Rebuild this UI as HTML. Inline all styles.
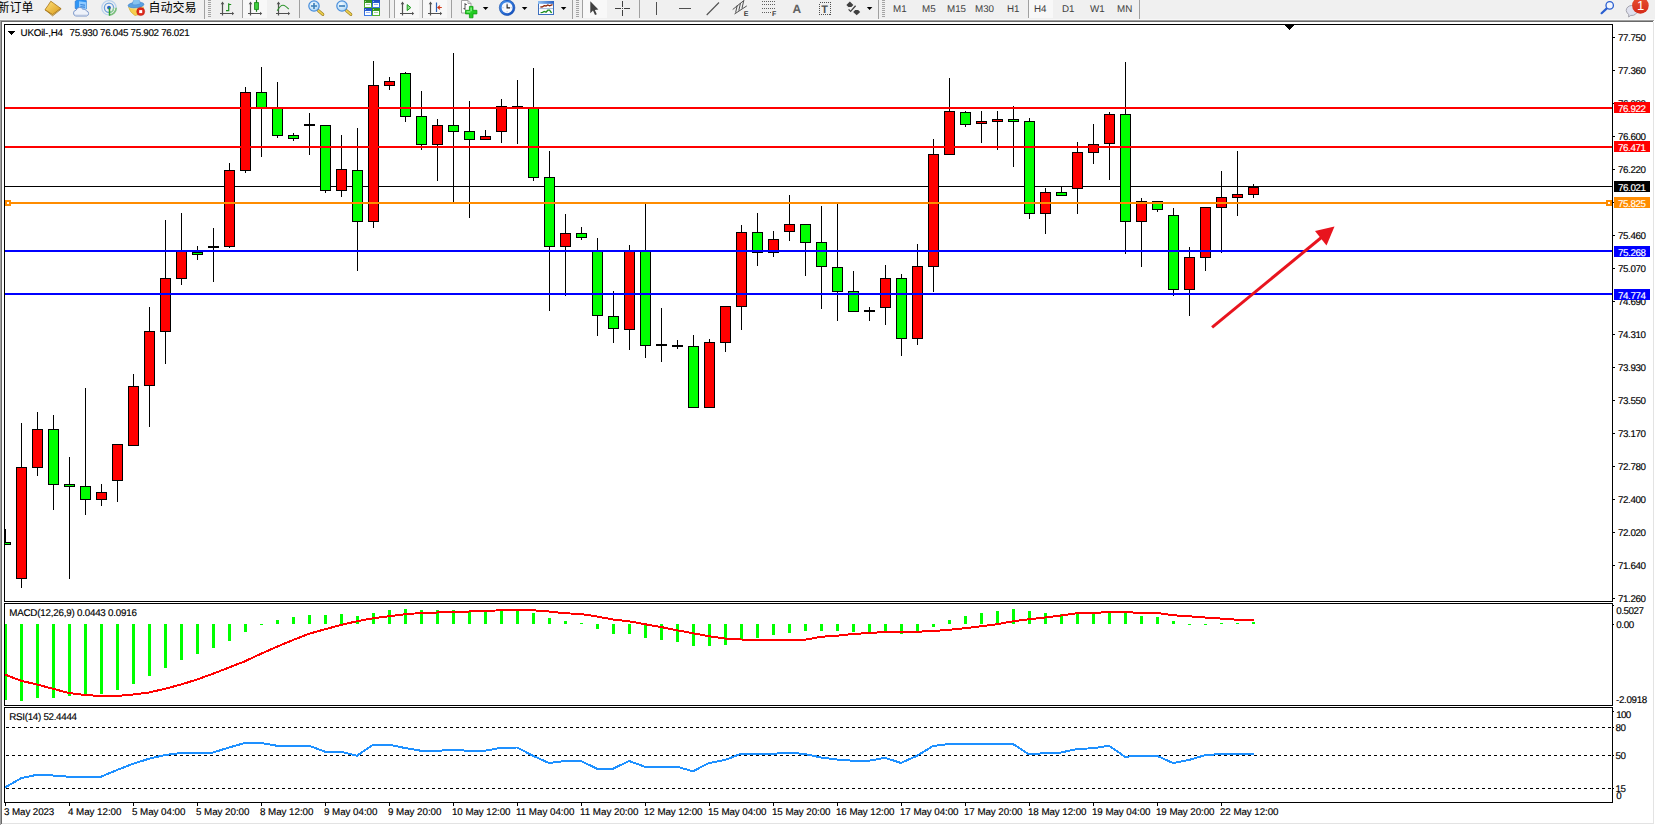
<!DOCTYPE html>
<html><head><meta charset="utf-8"><title>UKOil-,H4</title>
<style>
html,body{margin:0;padding:0;background:#fff;}
body{width:1655px;height:825px;position:relative;overflow:hidden;font-family:"Liberation Sans","Noto Sans CJK SC",sans-serif;}
.cv{position:absolute;left:0;top:0;}
.tx{position:absolute;font-size:9.8px;line-height:12px;height:12px;white-space:pre;text-rendering:geometricPrecision;-webkit-text-stroke:0.15px currentColor;}
.tag{position:absolute;}
.tag{left:1614px;width:36px;height:11px;}
#tb{position:absolute;left:0;top:0;width:1655px;height:20px;background:#f0f0f0;overflow:hidden;}
#tb .zh{position:absolute;top:0px;font-size:12px;line-height:14px;color:#000;white-space:nowrap;}
#tb .tf{position:absolute;top:4px;font-size:9.8px;line-height:12px;color:#404040;white-space:nowrap;text-rendering:geometricPrecision;}
#tb svg{position:absolute;left:0;top:0;}
.edge{position:absolute;background:#f0f0f0;}
</style></head><body>
<svg class="cv" width="1655" height="825" viewBox="0 0 1655 825" shape-rendering="crispEdges">
<rect x="4" y="24" width="1609" height="1" fill="#000"/>
<rect x="4" y="24" width="1" height="578" fill="#000"/>
<rect x="1612" y="24" width="1" height="578" fill="#000"/>
<rect x="4" y="603" width="1" height="103" fill="#000"/>
<rect x="1612" y="603" width="1" height="103" fill="#000"/>
<rect x="4" y="707" width="1" height="96" fill="#000"/>
<rect x="1612" y="707" width="1" height="96" fill="#000"/>
<rect x="4" y="601" width="1609" height="1" fill="#000"/>
<rect x="4" y="603" width="1609" height="1" fill="#000"/>
<rect x="4" y="705" width="1609" height="1" fill="#000"/>
<rect x="4" y="707" width="1609" height="1" fill="#000"/>
<rect x="4" y="802" width="1609" height="1" fill="#000"/>
<rect x="1613" y="37" width="2" height="1" fill="#000"/>
<rect x="1613" y="70" width="2" height="1" fill="#000"/>
<rect x="1613" y="103" width="2" height="1" fill="#000"/>
<rect x="1613" y="136" width="2" height="1" fill="#000"/>
<rect x="1613" y="169" width="2" height="1" fill="#000"/>
<rect x="1613" y="202" width="2" height="1" fill="#000"/>
<rect x="1613" y="235" width="2" height="1" fill="#000"/>
<rect x="1613" y="268" width="2" height="1" fill="#000"/>
<rect x="1613" y="301" width="2" height="1" fill="#000"/>
<rect x="1613" y="334" width="2" height="1" fill="#000"/>
<rect x="1613" y="367" width="2" height="1" fill="#000"/>
<rect x="1613" y="400" width="2" height="1" fill="#000"/>
<rect x="1613" y="433" width="2" height="1" fill="#000"/>
<rect x="1613" y="466" width="2" height="1" fill="#000"/>
<rect x="1613" y="499" width="2" height="1" fill="#000"/>
<rect x="1613" y="532" width="2" height="1" fill="#000"/>
<rect x="1613" y="565" width="2" height="1" fill="#000"/>
<rect x="1613" y="598" width="2" height="1" fill="#000"/>
<rect x="5" y="803" width="1" height="3" fill="#000"/>
<rect x="69" y="803" width="1" height="3" fill="#000"/>
<rect x="133" y="803" width="1" height="3" fill="#000"/>
<rect x="197" y="803" width="1" height="3" fill="#000"/>
<rect x="261" y="803" width="1" height="3" fill="#000"/>
<rect x="325" y="803" width="1" height="3" fill="#000"/>
<rect x="389" y="803" width="1" height="3" fill="#000"/>
<rect x="453" y="803" width="1" height="3" fill="#000"/>
<rect x="517" y="803" width="1" height="3" fill="#000"/>
<rect x="581" y="803" width="1" height="3" fill="#000"/>
<rect x="645" y="803" width="1" height="3" fill="#000"/>
<rect x="709" y="803" width="1" height="3" fill="#000"/>
<rect x="773" y="803" width="1" height="3" fill="#000"/>
<rect x="837" y="803" width="1" height="3" fill="#000"/>
<rect x="901" y="803" width="1" height="3" fill="#000"/>
<rect x="965" y="803" width="1" height="3" fill="#000"/>
<rect x="1029" y="803" width="1" height="3" fill="#000"/>
<rect x="1093" y="803" width="1" height="3" fill="#000"/>
<rect x="1157" y="803" width="1" height="3" fill="#000"/>
<rect x="1221" y="803" width="1" height="3" fill="#000"/>
<rect x="5" y="107" width="1607" height="2" fill="#ff0000"/>
<rect x="5" y="146" width="1607" height="2" fill="#ff0000"/>
<rect x="5" y="186" width="1607" height="1" fill="#000"/>
<rect x="5" y="202" width="1607" height="2" fill="#ff8c00"/>
<rect x="5" y="250" width="1607" height="2" fill="#0000ff"/>
<rect x="5" y="293" width="1607" height="2" fill="#0000ff"/>
<rect x="5" y="529" width="1" height="14" fill="#000"/>
<rect x="5" y="542" width="6" height="3" fill="#000"/>
<rect x="5" y="543" width="5" height="1" fill="#00ff00"/>
<rect x="21" y="423" width="1" height="165" fill="#000"/>
<rect x="16" y="467" width="11" height="112" fill="#000"/>
<rect x="17" y="468" width="9" height="110" fill="#ff0000"/>
<rect x="37" y="412" width="1" height="64" fill="#000"/>
<rect x="32" y="429" width="11" height="39" fill="#000"/>
<rect x="33" y="430" width="9" height="37" fill="#ff0000"/>
<rect x="53" y="415" width="1" height="95" fill="#000"/>
<rect x="48" y="429" width="11" height="56" fill="#000"/>
<rect x="49" y="430" width="9" height="54" fill="#00ff00"/>
<rect x="69" y="457" width="1" height="122" fill="#000"/>
<rect x="64" y="484" width="11" height="3" fill="#000"/>
<rect x="65" y="485" width="9" height="1" fill="#00ff00"/>
<rect x="85" y="388" width="1" height="127" fill="#000"/>
<rect x="80" y="486" width="11" height="14" fill="#000"/>
<rect x="81" y="487" width="9" height="12" fill="#00ff00"/>
<rect x="101" y="484" width="1" height="22" fill="#000"/>
<rect x="96" y="492" width="11" height="8" fill="#000"/>
<rect x="97" y="493" width="9" height="6" fill="#ff0000"/>
<rect x="117" y="444" width="1" height="58" fill="#000"/>
<rect x="112" y="444" width="11" height="37" fill="#000"/>
<rect x="113" y="445" width="9" height="35" fill="#ff0000"/>
<rect x="133" y="374" width="1" height="72" fill="#000"/>
<rect x="128" y="386" width="11" height="60" fill="#000"/>
<rect x="129" y="387" width="9" height="58" fill="#ff0000"/>
<rect x="149" y="307" width="1" height="120" fill="#000"/>
<rect x="144" y="331" width="11" height="55" fill="#000"/>
<rect x="145" y="332" width="9" height="53" fill="#ff0000"/>
<rect x="165" y="220" width="1" height="144" fill="#000"/>
<rect x="160" y="278" width="11" height="54" fill="#000"/>
<rect x="161" y="279" width="9" height="52" fill="#ff0000"/>
<rect x="181" y="213" width="1" height="72" fill="#000"/>
<rect x="176" y="251" width="11" height="28" fill="#000"/>
<rect x="177" y="252" width="9" height="26" fill="#ff0000"/>
<rect x="197" y="246" width="1" height="14" fill="#000"/>
<rect x="192" y="252" width="11" height="3" fill="#000"/>
<rect x="193" y="253" width="9" height="1" fill="#00ff00"/>
<rect x="213" y="228" width="1" height="54" fill="#000"/>
<rect x="208" y="246" width="11" height="2" fill="#000"/>
<rect x="229" y="163" width="1" height="85" fill="#000"/>
<rect x="224" y="170" width="11" height="77" fill="#000"/>
<rect x="225" y="171" width="9" height="75" fill="#ff0000"/>
<rect x="245" y="87" width="1" height="86" fill="#000"/>
<rect x="240" y="92" width="11" height="79" fill="#000"/>
<rect x="241" y="93" width="9" height="77" fill="#ff0000"/>
<rect x="261" y="67" width="1" height="90" fill="#000"/>
<rect x="256" y="92" width="11" height="16" fill="#000"/>
<rect x="257" y="93" width="9" height="14" fill="#00ff00"/>
<rect x="277" y="82" width="1" height="56" fill="#000"/>
<rect x="272" y="107" width="11" height="29" fill="#000"/>
<rect x="273" y="108" width="9" height="27" fill="#00ff00"/>
<rect x="293" y="133" width="1" height="8" fill="#000"/>
<rect x="288" y="135" width="11" height="4" fill="#000"/>
<rect x="289" y="136" width="9" height="2" fill="#00ff00"/>
<rect x="309" y="113" width="1" height="42" fill="#000"/>
<rect x="304" y="124" width="11" height="2" fill="#000"/>
<rect x="325" y="125" width="1" height="68" fill="#000"/>
<rect x="320" y="125" width="11" height="66" fill="#000"/>
<rect x="321" y="126" width="9" height="64" fill="#00ff00"/>
<rect x="341" y="135" width="1" height="62" fill="#000"/>
<rect x="336" y="169" width="11" height="22" fill="#000"/>
<rect x="337" y="170" width="9" height="20" fill="#ff0000"/>
<rect x="357" y="128" width="1" height="143" fill="#000"/>
<rect x="352" y="170" width="11" height="52" fill="#000"/>
<rect x="353" y="171" width="9" height="50" fill="#00ff00"/>
<rect x="373" y="61" width="1" height="167" fill="#000"/>
<rect x="368" y="85" width="11" height="137" fill="#000"/>
<rect x="369" y="86" width="9" height="135" fill="#ff0000"/>
<rect x="389" y="77" width="1" height="13" fill="#000"/>
<rect x="384" y="81" width="11" height="5" fill="#000"/>
<rect x="385" y="82" width="9" height="3" fill="#ff0000"/>
<rect x="405" y="72" width="1" height="50" fill="#000"/>
<rect x="400" y="73" width="11" height="44" fill="#000"/>
<rect x="401" y="74" width="9" height="42" fill="#00ff00"/>
<rect x="421" y="91" width="1" height="59" fill="#000"/>
<rect x="416" y="116" width="11" height="29" fill="#000"/>
<rect x="417" y="117" width="9" height="27" fill="#00ff00"/>
<rect x="437" y="119" width="1" height="62" fill="#000"/>
<rect x="432" y="125" width="11" height="20" fill="#000"/>
<rect x="433" y="126" width="9" height="18" fill="#ff0000"/>
<rect x="453" y="53" width="1" height="149" fill="#000"/>
<rect x="448" y="125" width="11" height="7" fill="#000"/>
<rect x="449" y="126" width="9" height="5" fill="#00ff00"/>
<rect x="469" y="101" width="1" height="117" fill="#000"/>
<rect x="464" y="131" width="11" height="9" fill="#000"/>
<rect x="465" y="132" width="9" height="7" fill="#00ff00"/>
<rect x="485" y="130" width="1" height="10" fill="#000"/>
<rect x="480" y="136" width="11" height="4" fill="#000"/>
<rect x="481" y="137" width="9" height="2" fill="#ff0000"/>
<rect x="501" y="99" width="1" height="44" fill="#000"/>
<rect x="496" y="106" width="11" height="26" fill="#000"/>
<rect x="497" y="107" width="9" height="24" fill="#ff0000"/>
<rect x="517" y="80" width="1" height="64" fill="#000"/>
<rect x="512" y="106" width="11" height="2" fill="#000"/>
<rect x="533" y="68" width="1" height="113" fill="#000"/>
<rect x="528" y="107" width="11" height="71" fill="#000"/>
<rect x="529" y="108" width="9" height="69" fill="#00ff00"/>
<rect x="549" y="151" width="1" height="160" fill="#000"/>
<rect x="544" y="177" width="11" height="70" fill="#000"/>
<rect x="545" y="178" width="9" height="68" fill="#00ff00"/>
<rect x="565" y="214" width="1" height="82" fill="#000"/>
<rect x="560" y="233" width="11" height="14" fill="#000"/>
<rect x="561" y="234" width="9" height="12" fill="#ff0000"/>
<rect x="581" y="227" width="1" height="13" fill="#000"/>
<rect x="576" y="233" width="11" height="5" fill="#000"/>
<rect x="577" y="234" width="9" height="3" fill="#00ff00"/>
<rect x="597" y="238" width="1" height="98" fill="#000"/>
<rect x="592" y="250" width="11" height="66" fill="#000"/>
<rect x="593" y="251" width="9" height="64" fill="#00ff00"/>
<rect x="613" y="291" width="1" height="52" fill="#000"/>
<rect x="608" y="316" width="11" height="13" fill="#000"/>
<rect x="609" y="317" width="9" height="11" fill="#00ff00"/>
<rect x="629" y="245" width="1" height="105" fill="#000"/>
<rect x="624" y="250" width="11" height="80" fill="#000"/>
<rect x="625" y="251" width="9" height="78" fill="#ff0000"/>
<rect x="645" y="204" width="1" height="154" fill="#000"/>
<rect x="640" y="250" width="11" height="96" fill="#000"/>
<rect x="641" y="251" width="9" height="94" fill="#00ff00"/>
<rect x="661" y="308" width="1" height="54" fill="#000"/>
<rect x="656" y="344" width="11" height="2" fill="#000"/>
<rect x="677" y="340" width="1" height="9" fill="#000"/>
<rect x="672" y="345" width="11" height="2" fill="#000"/>
<rect x="693" y="335" width="1" height="73" fill="#000"/>
<rect x="688" y="346" width="11" height="62" fill="#000"/>
<rect x="689" y="347" width="9" height="60" fill="#00ff00"/>
<rect x="709" y="339" width="1" height="69" fill="#000"/>
<rect x="704" y="342" width="11" height="66" fill="#000"/>
<rect x="705" y="343" width="9" height="64" fill="#ff0000"/>
<rect x="725" y="306" width="1" height="46" fill="#000"/>
<rect x="720" y="306" width="11" height="37" fill="#000"/>
<rect x="721" y="307" width="9" height="35" fill="#ff0000"/>
<rect x="741" y="225" width="1" height="105" fill="#000"/>
<rect x="736" y="232" width="11" height="75" fill="#000"/>
<rect x="737" y="233" width="9" height="73" fill="#ff0000"/>
<rect x="757" y="213" width="1" height="53" fill="#000"/>
<rect x="752" y="232" width="11" height="21" fill="#000"/>
<rect x="753" y="233" width="9" height="19" fill="#00ff00"/>
<rect x="773" y="231" width="1" height="26" fill="#000"/>
<rect x="768" y="239" width="11" height="14" fill="#000"/>
<rect x="769" y="240" width="9" height="12" fill="#ff0000"/>
<rect x="789" y="195" width="1" height="46" fill="#000"/>
<rect x="784" y="224" width="11" height="8" fill="#000"/>
<rect x="785" y="225" width="9" height="6" fill="#ff0000"/>
<rect x="805" y="224" width="1" height="52" fill="#000"/>
<rect x="800" y="224" width="11" height="19" fill="#000"/>
<rect x="801" y="225" width="9" height="17" fill="#00ff00"/>
<rect x="821" y="206" width="1" height="103" fill="#000"/>
<rect x="816" y="242" width="11" height="25" fill="#000"/>
<rect x="817" y="243" width="9" height="23" fill="#00ff00"/>
<rect x="837" y="204" width="1" height="117" fill="#000"/>
<rect x="832" y="267" width="11" height="25" fill="#000"/>
<rect x="833" y="268" width="9" height="23" fill="#00ff00"/>
<rect x="853" y="271" width="1" height="41" fill="#000"/>
<rect x="848" y="291" width="11" height="21" fill="#000"/>
<rect x="849" y="292" width="9" height="19" fill="#00ff00"/>
<rect x="869" y="307" width="1" height="14" fill="#000"/>
<rect x="864" y="310" width="11" height="2" fill="#000"/>
<rect x="885" y="265" width="1" height="60" fill="#000"/>
<rect x="880" y="278" width="11" height="30" fill="#000"/>
<rect x="881" y="279" width="9" height="28" fill="#ff0000"/>
<rect x="901" y="274" width="1" height="82" fill="#000"/>
<rect x="896" y="278" width="11" height="61" fill="#000"/>
<rect x="897" y="279" width="9" height="59" fill="#00ff00"/>
<rect x="917" y="244" width="1" height="101" fill="#000"/>
<rect x="912" y="266" width="11" height="73" fill="#000"/>
<rect x="913" y="267" width="9" height="71" fill="#ff0000"/>
<rect x="933" y="139" width="1" height="153" fill="#000"/>
<rect x="928" y="154" width="11" height="113" fill="#000"/>
<rect x="929" y="155" width="9" height="111" fill="#ff0000"/>
<rect x="949" y="78" width="1" height="77" fill="#000"/>
<rect x="944" y="111" width="11" height="44" fill="#000"/>
<rect x="945" y="112" width="9" height="42" fill="#ff0000"/>
<rect x="965" y="111" width="1" height="16" fill="#000"/>
<rect x="960" y="112" width="11" height="13" fill="#000"/>
<rect x="961" y="113" width="9" height="11" fill="#00ff00"/>
<rect x="981" y="111" width="1" height="32" fill="#000"/>
<rect x="976" y="121" width="11" height="3" fill="#000"/>
<rect x="977" y="122" width="9" height="1" fill="#ff0000"/>
<rect x="997" y="111" width="1" height="39" fill="#000"/>
<rect x="992" y="119" width="11" height="3" fill="#000"/>
<rect x="993" y="120" width="9" height="1" fill="#ff0000"/>
<rect x="1013" y="106" width="1" height="61" fill="#000"/>
<rect x="1008" y="119" width="11" height="3" fill="#000"/>
<rect x="1009" y="120" width="9" height="1" fill="#00ff00"/>
<rect x="1029" y="118" width="1" height="101" fill="#000"/>
<rect x="1024" y="121" width="11" height="93" fill="#000"/>
<rect x="1025" y="122" width="9" height="91" fill="#00ff00"/>
<rect x="1045" y="188" width="1" height="46" fill="#000"/>
<rect x="1040" y="192" width="11" height="22" fill="#000"/>
<rect x="1041" y="193" width="9" height="20" fill="#ff0000"/>
<rect x="1061" y="187" width="1" height="9" fill="#000"/>
<rect x="1056" y="192" width="11" height="4" fill="#000"/>
<rect x="1057" y="193" width="9" height="2" fill="#00ff00"/>
<rect x="1077" y="142" width="1" height="72" fill="#000"/>
<rect x="1072" y="152" width="11" height="37" fill="#000"/>
<rect x="1073" y="153" width="9" height="35" fill="#ff0000"/>
<rect x="1093" y="124" width="1" height="40" fill="#000"/>
<rect x="1088" y="144" width="11" height="9" fill="#000"/>
<rect x="1089" y="145" width="9" height="7" fill="#ff0000"/>
<rect x="1109" y="112" width="1" height="68" fill="#000"/>
<rect x="1104" y="114" width="11" height="30" fill="#000"/>
<rect x="1105" y="115" width="9" height="28" fill="#ff0000"/>
<rect x="1125" y="62" width="1" height="192" fill="#000"/>
<rect x="1120" y="114" width="11" height="108" fill="#000"/>
<rect x="1121" y="115" width="9" height="106" fill="#00ff00"/>
<rect x="1141" y="198" width="1" height="69" fill="#000"/>
<rect x="1136" y="201" width="11" height="21" fill="#000"/>
<rect x="1137" y="202" width="9" height="19" fill="#ff0000"/>
<rect x="1157" y="201" width="1" height="11" fill="#000"/>
<rect x="1152" y="201" width="11" height="9" fill="#000"/>
<rect x="1153" y="202" width="9" height="7" fill="#00ff00"/>
<rect x="1173" y="208" width="1" height="88" fill="#000"/>
<rect x="1168" y="215" width="11" height="75" fill="#000"/>
<rect x="1169" y="216" width="9" height="73" fill="#00ff00"/>
<rect x="1189" y="247" width="1" height="69" fill="#000"/>
<rect x="1184" y="257" width="11" height="33" fill="#000"/>
<rect x="1185" y="258" width="9" height="31" fill="#ff0000"/>
<rect x="1205" y="207" width="1" height="64" fill="#000"/>
<rect x="1200" y="207" width="11" height="51" fill="#000"/>
<rect x="1201" y="208" width="9" height="49" fill="#ff0000"/>
<rect x="1221" y="171" width="1" height="82" fill="#000"/>
<rect x="1216" y="197" width="11" height="11" fill="#000"/>
<rect x="1217" y="198" width="9" height="9" fill="#ff0000"/>
<rect x="1237" y="151" width="1" height="65" fill="#000"/>
<rect x="1232" y="194" width="11" height="4" fill="#000"/>
<rect x="1233" y="195" width="9" height="2" fill="#ff0000"/>
<rect x="1253" y="184" width="1" height="14" fill="#000"/>
<rect x="1248" y="187" width="11" height="8" fill="#000"/>
<rect x="1249" y="188" width="9" height="6" fill="#ff0000"/>
<rect x="5" y="107" width="1607" height="2" fill="#ff0000"/>
<rect x="5" y="146" width="1607" height="2" fill="#ff0000"/>
<rect x="5" y="202" width="1607" height="2" fill="#ff8c00"/>
<rect x="5" y="250" width="1607" height="2" fill="#0000ff"/>
<rect x="5" y="293" width="1607" height="2" fill="#0000ff"/>
<rect x="5" y="200" width="6" height="6" fill="#ff8c00"/>
<rect x="7" y="202" width="2" height="2" fill="#fff"/>
<rect x="1606" y="200" width="6" height="6" fill="#ff8c00"/>
<rect x="1608" y="202" width="2" height="2" fill="#fff"/>
<rect x="1613" y="605" width="1" height="1" fill="#000"/>
<rect x="1613" y="624" width="1" height="1" fill="#000"/>
<rect x="1613" y="711" width="1" height="1" fill="#000"/>
<rect x="1613" y="727" width="1" height="1" fill="#000"/>
<rect x="1613" y="755" width="1" height="1" fill="#000"/>
<rect x="1613" y="788" width="1" height="1" fill="#000"/>
<rect x="8" y="31" width="7" height="1" fill="#000"/>
<rect x="9" y="32" width="5" height="1" fill="#000"/>
<rect x="10" y="33" width="3" height="1" fill="#000"/>
<rect x="11" y="34" width="1" height="1" fill="#000"/>
<rect x="1285" y="25" width="9" height="1" fill="#000"/>
<rect x="1286" y="26" width="7" height="1" fill="#000"/>
<rect x="1287" y="27" width="5" height="1" fill="#000"/>
<rect x="1288" y="28" width="3" height="1" fill="#000"/>
<rect x="1289" y="29" width="1" height="1" fill="#000"/>
<rect x="5" y="624" width="2" height="76" fill="#00ff00"/>
<rect x="20" y="624" width="3" height="77" fill="#00ff00"/>
<rect x="36" y="624" width="3" height="74" fill="#00ff00"/>
<rect x="52" y="624" width="3" height="74" fill="#00ff00"/>
<rect x="68" y="624" width="3" height="72" fill="#00ff00"/>
<rect x="84" y="624" width="3" height="70" fill="#00ff00"/>
<rect x="100" y="624" width="3" height="70" fill="#00ff00"/>
<rect x="116" y="624" width="3" height="66" fill="#00ff00"/>
<rect x="132" y="624" width="3" height="60" fill="#00ff00"/>
<rect x="148" y="624" width="3" height="52" fill="#00ff00"/>
<rect x="164" y="624" width="3" height="44" fill="#00ff00"/>
<rect x="180" y="624" width="3" height="36" fill="#00ff00"/>
<rect x="196" y="624" width="3" height="30" fill="#00ff00"/>
<rect x="212" y="624" width="3" height="24" fill="#00ff00"/>
<rect x="228" y="624" width="3" height="17" fill="#00ff00"/>
<rect x="244" y="624" width="3" height="8" fill="#00ff00"/>
<rect x="260" y="624" width="3" height="1" fill="#00ff00"/>
<rect x="276" y="620" width="3" height="4" fill="#00ff00"/>
<rect x="292" y="617" width="3" height="7" fill="#00ff00"/>
<rect x="308" y="615" width="3" height="9" fill="#00ff00"/>
<rect x="324" y="615" width="3" height="9" fill="#00ff00"/>
<rect x="340" y="614" width="3" height="10" fill="#00ff00"/>
<rect x="356" y="616" width="3" height="8" fill="#00ff00"/>
<rect x="372" y="613" width="3" height="11" fill="#00ff00"/>
<rect x="388" y="610" width="3" height="14" fill="#00ff00"/>
<rect x="404" y="609" width="3" height="15" fill="#00ff00"/>
<rect x="420" y="610" width="3" height="14" fill="#00ff00"/>
<rect x="436" y="610" width="3" height="14" fill="#00ff00"/>
<rect x="452" y="610" width="3" height="14" fill="#00ff00"/>
<rect x="468" y="611" width="3" height="13" fill="#00ff00"/>
<rect x="484" y="611" width="3" height="13" fill="#00ff00"/>
<rect x="500" y="610" width="3" height="14" fill="#00ff00"/>
<rect x="516" y="610" width="3" height="14" fill="#00ff00"/>
<rect x="532" y="613" width="3" height="11" fill="#00ff00"/>
<rect x="548" y="618" width="3" height="6" fill="#00ff00"/>
<rect x="564" y="621" width="3" height="3" fill="#00ff00"/>
<rect x="580" y="623" width="3" height="1" fill="#00ff00"/>
<rect x="596" y="624" width="3" height="5" fill="#00ff00"/>
<rect x="612" y="624" width="3" height="10" fill="#00ff00"/>
<rect x="628" y="624" width="3" height="10" fill="#00ff00"/>
<rect x="644" y="624" width="3" height="14" fill="#00ff00"/>
<rect x="660" y="624" width="3" height="16" fill="#00ff00"/>
<rect x="676" y="624" width="3" height="18" fill="#00ff00"/>
<rect x="692" y="624" width="3" height="22" fill="#00ff00"/>
<rect x="708" y="624" width="3" height="22" fill="#00ff00"/>
<rect x="724" y="624" width="3" height="21" fill="#00ff00"/>
<rect x="740" y="624" width="3" height="16" fill="#00ff00"/>
<rect x="756" y="624" width="3" height="14" fill="#00ff00"/>
<rect x="772" y="624" width="3" height="11" fill="#00ff00"/>
<rect x="788" y="624" width="3" height="9" fill="#00ff00"/>
<rect x="804" y="624" width="3" height="7" fill="#00ff00"/>
<rect x="820" y="624" width="3" height="7" fill="#00ff00"/>
<rect x="836" y="624" width="3" height="7" fill="#00ff00"/>
<rect x="852" y="624" width="3" height="8" fill="#00ff00"/>
<rect x="868" y="624" width="3" height="9" fill="#00ff00"/>
<rect x="884" y="624" width="3" height="9" fill="#00ff00"/>
<rect x="900" y="624" width="3" height="10" fill="#00ff00"/>
<rect x="916" y="624" width="3" height="8" fill="#00ff00"/>
<rect x="932" y="624" width="3" height="3" fill="#00ff00"/>
<rect x="948" y="620" width="3" height="4" fill="#00ff00"/>
<rect x="964" y="616" width="3" height="8" fill="#00ff00"/>
<rect x="980" y="613" width="3" height="11" fill="#00ff00"/>
<rect x="996" y="611" width="3" height="13" fill="#00ff00"/>
<rect x="1012" y="609" width="3" height="15" fill="#00ff00"/>
<rect x="1028" y="611" width="3" height="13" fill="#00ff00"/>
<rect x="1044" y="613" width="3" height="11" fill="#00ff00"/>
<rect x="1060" y="614" width="3" height="10" fill="#00ff00"/>
<rect x="1076" y="613" width="3" height="11" fill="#00ff00"/>
<rect x="1092" y="613" width="3" height="11" fill="#00ff00"/>
<rect x="1108" y="611" width="3" height="13" fill="#00ff00"/>
<rect x="1124" y="613" width="3" height="11" fill="#00ff00"/>
<rect x="1140" y="616" width="3" height="8" fill="#00ff00"/>
<rect x="1156" y="617" width="3" height="7" fill="#00ff00"/>
<rect x="1172" y="621" width="3" height="3" fill="#00ff00"/>
<rect x="1188" y="624" width="3" height="1" fill="#00ff00"/>
<rect x="1204" y="624" width="3" height="1" fill="#00ff00"/>
<rect x="1220" y="623" width="3" height="1" fill="#00ff00"/>
<rect x="1236" y="623" width="3" height="1" fill="#00ff00"/>
<rect x="1252" y="622" width="3" height="2" fill="#00ff00"/>
<line x1="6" y1="727.5" x2="1612" y2="727.5" stroke="#000" stroke-width="1" stroke-dasharray="3 3"/>
<line x1="6" y1="755.5" x2="1612" y2="755.5" stroke="#000" stroke-width="1" stroke-dasharray="3 3"/>
<line x1="6" y1="788.5" x2="1612" y2="788.5" stroke="#000" stroke-width="1" stroke-dasharray="3 3"/>
</svg>
<svg class="cv" width="1655" height="825" viewBox="0 0 1655 825">
<polyline points="5,674.5 21,680.75 37,684.5 53,688.75 69,693 85,695 101,696 117,696 133,694.5 149,692.5 165,688.75 181,684.5 197,679.5 213,673.75 229,667.5 245,661.25 261,653.75 277,646.75 293,640 309,633.75 325,629.25 341,625 357,621.25 373,618.25 389,616.25 405,614.25 421,613 437,612.5 453,612.2 469,611.5 485,611 501,610.25 517,610.25 533,610.25 549,611.5 565,613.25 581,614 597,616.5 613,619.5 629,621.25 645,624.25 661,627 677,630.25 693,633.25 709,636.25 725,638.5 741,639.5 757,639.75 773,639.75 789,639.75 805,639.75 821,636.75 837,635.75 853,634 869,633 885,632 901,631.9 917,631.75 933,631 949,629.8 965,628.25 981,626.3 997,624.25 1013,621.25 1029,619.25 1045,617.5 1061,615.5 1077,613.25 1093,613 1109,612 1125,612 1141,613 1157,613 1173,615.25 1189,616.25 1205,617.5 1221,618.6 1237,619.7 1253,620.3 1254,620.3" fill="none" stroke="#ff0000" stroke-width="2" stroke-linejoin="round" shape-rendering="crispEdges"/>
<polyline points="5,787.5 21,778.25 37,774.75 53,775.5 69,776.75 85,776.75 101,776.75 117,770 133,763.75 149,758.75 165,755 181,753 197,752.5 213,752.5 229,747.5 245,743 261,743 277,745.75 293,745.75 309,745.75 325,751.75 341,751.75 357,755.75 373,744.75 389,744.75 405,748 421,750.75 437,750.75 453,750 469,750.75 485,750.75 501,747.75 517,747.5 533,755.75 549,763 565,761 581,761 597,768.75 613,768.75 629,761 645,766.75 661,766.75 677,766.75 693,771.25 709,763 725,760 741,753.75 757,754.5 773,753.75 789,752.75 805,754 821,757.5 837,759.5 853,760.75 869,760.75 885,757.75 901,763 917,755.75 933,746 949,744 965,744 981,744 997,744 1013,744 1029,754.5 1045,753 1061,752.5 1077,749 1093,748.25 1109,745.75 1125,756.75 1141,755.75 1157,755.75 1173,763 1189,760 1205,755.2 1221,754 1237,754 1253,754 1254,754" fill="none" stroke="#1e90ff" stroke-width="2" stroke-linejoin="round" shape-rendering="crispEdges"/>
<line x1="1212.1" y1="327.4" x2="1322" y2="237" stroke="#e8141e" stroke-width="3"/>
<polygon points="1334.5,226.5 1315,231 1326.5,245.5" fill="#e8141e"/>
</svg>
<div class="tx" style="left:1617.90px;top:33.00px;letter-spacing:-0.361px;color:#000">77.750</div>
<div class="tx" style="left:1617.90px;top:66.00px;letter-spacing:-0.361px;color:#000">77.360</div>
<div class="tx" style="left:1617.90px;top:99.00px;letter-spacing:-0.361px;color:#000">76.980</div>
<div class="tx" style="left:1617.90px;top:132.00px;letter-spacing:-0.361px;color:#000">76.600</div>
<div class="tx" style="left:1617.90px;top:165.00px;letter-spacing:-0.361px;color:#000">76.220</div>
<div class="tx" style="left:1617.90px;top:198.00px;letter-spacing:-0.361px;color:#000">75.840</div>
<div class="tx" style="left:1617.90px;top:231.00px;letter-spacing:-0.361px;color:#000">75.460</div>
<div class="tx" style="left:1617.90px;top:264.00px;letter-spacing:-0.361px;color:#000">75.070</div>
<div class="tx" style="left:1617.90px;top:297.00px;letter-spacing:-0.361px;color:#000">74.690</div>
<div class="tx" style="left:1617.90px;top:330.00px;letter-spacing:-0.361px;color:#000">74.310</div>
<div class="tx" style="left:1617.90px;top:363.00px;letter-spacing:-0.361px;color:#000">73.930</div>
<div class="tx" style="left:1617.90px;top:396.00px;letter-spacing:-0.361px;color:#000">73.550</div>
<div class="tx" style="left:1617.90px;top:429.00px;letter-spacing:-0.361px;color:#000">73.170</div>
<div class="tx" style="left:1617.90px;top:462.00px;letter-spacing:-0.361px;color:#000">72.780</div>
<div class="tx" style="left:1617.90px;top:495.00px;letter-spacing:-0.361px;color:#000">72.400</div>
<div class="tx" style="left:1617.90px;top:528.00px;letter-spacing:-0.361px;color:#000">72.020</div>
<div class="tx" style="left:1617.90px;top:561.00px;letter-spacing:-0.361px;color:#000">71.640</div>
<div class="tx" style="left:1617.90px;top:594.00px;letter-spacing:-0.361px;color:#000">71.260</div>
<div class="tx" style="left:4.00px;top:807.00px;letter-spacing:-0.100px;color:#000">3 May 2023</div>
<div class="tx" style="left:68.00px;top:807.00px;letter-spacing:-0.047px;color:#000">4 May 12:00</div>
<div class="tx" style="left:132.00px;top:807.00px;letter-spacing:-0.047px;color:#000">5 May 04:00</div>
<div class="tx" style="left:196.00px;top:807.00px;letter-spacing:-0.047px;color:#000">5 May 20:00</div>
<div class="tx" style="left:260.00px;top:807.00px;letter-spacing:-0.047px;color:#000">8 May 12:00</div>
<div class="tx" style="left:324.00px;top:807.00px;letter-spacing:-0.047px;color:#000">9 May 04:00</div>
<div class="tx" style="left:388.00px;top:807.00px;letter-spacing:-0.047px;color:#000">9 May 20:00</div>
<div class="tx" style="left:452.00px;top:807.00px;letter-spacing:-0.081px;color:#000">10 May 12:00</div>
<div class="tx" style="left:516.00px;top:807.00px;letter-spacing:-0.020px;color:#000">11 May 04:00</div>
<div class="tx" style="left:580.00px;top:807.00px;letter-spacing:-0.020px;color:#000">11 May 20:00</div>
<div class="tx" style="left:644.00px;top:807.00px;letter-spacing:-0.081px;color:#000">12 May 12:00</div>
<div class="tx" style="left:708.00px;top:807.00px;letter-spacing:-0.081px;color:#000">15 May 04:00</div>
<div class="tx" style="left:772.00px;top:807.00px;letter-spacing:-0.081px;color:#000">15 May 20:00</div>
<div class="tx" style="left:836.00px;top:807.00px;letter-spacing:-0.081px;color:#000">16 May 12:00</div>
<div class="tx" style="left:900.00px;top:807.00px;letter-spacing:-0.081px;color:#000">17 May 04:00</div>
<div class="tx" style="left:964.00px;top:807.00px;letter-spacing:-0.081px;color:#000">17 May 20:00</div>
<div class="tx" style="left:1028.00px;top:807.00px;letter-spacing:-0.081px;color:#000">18 May 12:00</div>
<div class="tx" style="left:1092.00px;top:807.00px;letter-spacing:-0.081px;color:#000">19 May 04:00</div>
<div class="tx" style="left:1156.00px;top:807.00px;letter-spacing:-0.081px;color:#000">19 May 20:00</div>
<div class="tx" style="left:1220.00px;top:807.00px;letter-spacing:-0.081px;color:#000">22 May 12:00</div>
<div class="tx" style="left:1616.30px;top:606.00px;letter-spacing:-0.461px;color:#000">0.5027</div>
<div class="tx" style="left:1616.30px;top:620.00px;letter-spacing:-0.420px;color:#000">0.00</div>
<div class="tx" style="left:1616.00px;top:695.00px;letter-spacing:-0.319px;color:#000">-2.0918</div>
<div class="tx" style="left:1616.20px;top:710.00px;letter-spacing:-0.653px;color:#000">100</div>
<div class="tx" style="left:1615.60px;top:723.00px;letter-spacing:-0.653px;color:#000">80</div>
<div class="tx" style="left:1615.60px;top:751.00px;letter-spacing:-0.653px;color:#000">50</div>
<div class="tx" style="left:1615.60px;top:784.00px;letter-spacing:-0.653px;color:#000">15</div>
<div class="tx" style="left:1616.20px;top:791.00px;letter-spacing:-0.853px;color:#000">0</div>
<div class="tx" style="left:20.50px;top:28.00px;letter-spacing:-0.199px;color:#000">UKOil-,H4</div>
<div class="tx" style="left:69.50px;top:28.00px;letter-spacing:-0.305px;color:#000">75.930 76.045 75.902 76.021</div>
<div class="tx" style="left:9.25px;top:608.00px;letter-spacing:-0.220px;color:#000">MACD(12,26,9) 0.0443 0.0916</div>
<div class="tx" style="left:9.25px;top:712.00px;letter-spacing:-0.293px;color:#000">RSI(14) 52.4444</div>
<div class="tag" style="top:102px;background:#ff0000"></div>
<div class="tag" style="top:141px;background:#ff0000"></div>
<div class="tag" style="top:181px;background:#000"></div>
<div class="tag" style="top:197px;background:#ff8c00"></div>
<div class="tag" style="top:246px;background:#0000ff"></div>
<div class="tag" style="top:289px;background:#0000ff"></div>
<div class="tx" style="left:1617.90px;top:104.00px;letter-spacing:-0.361px;color:#fff">76.922</div>
<div class="tx" style="left:1617.90px;top:143.00px;letter-spacing:-0.361px;color:#fff">76.471</div>
<div class="tx" style="left:1617.90px;top:183.00px;letter-spacing:-0.361px;color:#fff">76.021</div>
<div class="tx" style="left:1617.90px;top:199.00px;letter-spacing:-0.361px;color:#fff">75.825</div>
<div class="tx" style="left:1617.90px;top:248.00px;letter-spacing:-0.361px;color:#fff">75.268</div>
<div class="tx" style="left:1617.90px;top:291.00px;letter-spacing:-0.361px;color:#fff">74.774</div>
<div class="edge" style="left:1653px;top:22px;width:1px;height:802px;background:#e3e3e3"></div>
<div class="edge" style="left:2px;top:823px;width:1652px;height:1px;background:#e3e3e3"></div>
<div class="edge" style="left:0;top:20px;width:1px;height:805px;background:#a0a0a0"></div>
<div class="edge" style="left:1px;top:21px;width:1px;height:803px;background:#696969"></div>
<div id="tb">
<svg width="1655" height="20" viewBox="0 0 1655 20">
<defs>
<linearGradient id="gy" x1="0" y1="0" x2="1" y2="1"><stop offset="0" stop-color="#ffe27a"/><stop offset="1" stop-color="#d99a1c"/></linearGradient>
<linearGradient id="gb" x1="0" y1="0" x2="0" y2="1"><stop offset="0" stop-color="#7db4ea"/><stop offset="1" stop-color="#2c62c0"/></linearGradient>
<radialGradient id="gl" cx="0.4" cy="0.35" r="0.7"><stop offset="0" stop-color="#f4fbff"/><stop offset="1" stop-color="#a9d4f5"/></radialGradient>
<linearGradient id="gr" x1="0" y1="0" x2="0" y2="1"><stop offset="0" stop-color="#e8502f"/><stop offset="1" stop-color="#d42a18"/></linearGradient>
<linearGradient id="tg" x1="0" y1="0" x2="0" y2="1"><stop offset="0" stop-color="#2c8c1c"/><stop offset="1" stop-color="#56b436"/></linearGradient><linearGradient id="tbl" x1="0" y1="0" x2="0" y2="1"><stop offset="0" stop-color="#1c4cc0"/><stop offset="1" stop-color="#3f7ce8"/></linearGradient>
<linearGradient id="gck" x1="0" y1="0" x2="1" y2="1"><stop offset="0" stop-color="#4a9af5"/><stop offset="1" stop-color="#0f48b8"/></linearGradient><linearGradient id="gtp" x1="0" y1="0" x2="1" y2="0"><stop offset="0" stop-color="#8fc0f5"/><stop offset="1" stop-color="#2a62c4"/></linearGradient>
</defs>
<!-- selected backgrounds -->
<g fill="#f8f8f8">
<rect x="243" y="0" width="24" height="18"/><rect x="395" y="0" width="24" height="18"/><rect x="423" y="0" width="24" height="18"/>
<rect x="583" y="0" width="24" height="18"/><rect x="1029" y="0" width="24" height="18"/>
</g>
<!-- separators -->
<g fill="#a0a0a0" shape-rendering="crispEdges">
<rect x="204" y="0" width="1" height="19"/><rect x="242" y="0" width="1" height="18"/><rect x="299" y="0" width="1" height="18"/>
<rect x="389" y="0" width="1" height="18"/><rect x="394" y="0" width="1" height="18"/><rect x="422" y="0" width="1" height="18"/>
<rect x="451" y="0" width="1" height="18"/><rect x="572" y="0" width="1" height="19"/><rect x="582" y="0" width="1" height="18"/>
<rect x="639" y="0" width="1" height="18"/><rect x="878" y="0" width="1" height="19"/><rect x="1028" y="0" width="1" height="18"/>
<rect x="1139" y="0" width="1" height="19"/>
</g>
<!-- grips -->
<g fill="#a4a4a4" shape-rendering="crispEdges">
<path d="M208 0h3v1h-3zM208 2h3v1h-3zM208 4h3v1h-3zM208 6h3v1h-3zM208 8h3v1h-3zM208 10h3v1h-3zM208 12h3v1h-3zM208 14h3v1h-3zM208 16h3v1h-3z"/>
<path d="M576 0h3v1h-3zM576 2h3v1h-3zM576 4h3v1h-3zM576 6h3v1h-3zM576 8h3v1h-3zM576 10h3v1h-3zM576 12h3v1h-3zM576 14h3v1h-3zM576 16h3v1h-3z"/>
<path d="M882 0h3v1h-3zM882 2h3v1h-3zM882 4h3v1h-3zM882 6h3v1h-3zM882 8h3v1h-3zM882 10h3v1h-3zM882 12h3v1h-3zM882 14h3v1h-3zM882 16h3v1h-3z"/>
</g>
<!-- yellow book -->
<g>
<path d="M45 9.7 L52.6 15.9 L60.9 9.3 L60.7 8.2 L52.4 14 Z" fill="#e9dcae" stroke="#9a6a12" stroke-width="0.7"/>
<path d="M45 9.7 Q48.5 5 50.8 1.2 L60.7 8.4 L52.6 14.6 Z" fill="url(#gy)" stroke="#a87412" stroke-width="0.8" stroke-linejoin="round"/>
</g>
<!-- cloud / server -->
<g>
<path d="M75.2 1.2 L79 -0.8 L86.4 0.6 L86.4 9 L79 10 L75.2 8.4Z" fill="#2f95f5" stroke="#1f6fd0" stroke-width="0.6"/>
<path d="M79 1.2 L86.2 2.2 L86.2 9 L79 9.8Z" fill="#8fcaff"/>
<path d="M80.4 4.6 L85 5.2 M80.4 6.8 L85 7.2" stroke="#1f6fd0" stroke-width="0.9"/>
<path d="M75.8 16 a3 3 0 0 1 0.4 -5.9 a3.6 3.6 0 0 1 6.6 -0.9 a3 3 0 0 1 3.6 1.7 a2.6 2.6 0 0 1 0.2 5.1 Z" fill="#eef2fa" stroke="#6f8ec6" stroke-width="0.9"/>
<path d="M75 15.2 H87.6" stroke="#b7c4de" stroke-width="1"/>
</g>
<!-- signals -->
<g fill="none">
<circle cx="109" cy="7.8" r="7.2" stroke="#b9d2ee" stroke-width="1.2"/>
<circle cx="109" cy="7.8" r="4.6" stroke="#6c9fdc" stroke-width="1.3"/>
<path d="M109 15 A7.2 7.2 0 0 0 116.2 7.8" stroke="#7cc07c" stroke-width="1.6"/>
<path d="M109.6 12.4 A4.6 4.6 0 0 0 113.6 7.8" stroke="#8fcf8f" stroke-width="1.3"/>
<circle cx="109" cy="7.6" r="1.9" fill="#2a62c8"/>
<path d="M109.5 7.6 V15.6" stroke="#2fa12f" stroke-width="1.5"/>
</g>
<!-- hat + stop -->
<g>
<path d="M128.6 7 Q129.5 12 135 15.6 L139 14.6 L143.6 7 Z" fill="#f6cf4e" stroke="#d2a52a" stroke-width="0.6"/>
<path d="M129 8 Q136 11 143 7.6 L143.4 6.4 L128.6 6.6Z" fill="#fbe58c"/>
<ellipse cx="136" cy="5" rx="8" ry="2.8" fill="#5aa2e2" stroke="#3f7fc8" stroke-width="0.6" transform="rotate(-6 136 5)"/>
<path d="M132.2 4.6 Q133 -1 136.4 -1.6 Q139.8 -1 140.4 3.8 Q136 5.6 132.2 4.6Z" fill="#86c3f0" stroke="#4a8ad0" stroke-width="0.5"/>
<circle cx="140.7" cy="11.6" r="4" fill="#dc2a1c" stroke="#b81a10" stroke-width="0.5"/>
<rect x="139.2" y="10.1" width="3" height="3" fill="#fff"/>
</g>
<!-- bar chart icon -->
<g><path d="M222.5 3V15.6M220 13.5H233" stroke="#505050" stroke-width="1.2" fill="none"/><path d="M220.7 4.2L222.5 1.6L224.3 4.2ZM232 11.7L234.2 13.5L232 15.3Z" fill="#505050"/><path d="M228.7 3.3V11.3M228.7 4.5H231.2M226 10.7H228.7" stroke="#1f8f1f" stroke-width="1.2" fill="none"/></g>
<!-- candle icon -->
<g><path d="M250.5 3V15.6M248 13.5H261" stroke="#505050" stroke-width="1.2" fill="none"/><path d="M248.7 4.2L250.5 1.6L252.3 4.2ZM260 11.7L262.2 13.5L260 15.3Z" fill="#505050"/><path d="M256.5 0V11.8" stroke="#1d7a1d" stroke-width="1.2"/><rect x="254.6" y="2.6" width="3.8" height="6.8" fill="#3fd03f" stroke="#1d8a1d" stroke-width="0.9"/></g>
<!-- line chart icon -->
<g><path d="M278.5 3V15.6M276 13.5H289" stroke="#505050" stroke-width="1.2" fill="none"/><path d="M276.7 4.2L278.5 1.6L280.3 4.2ZM288 11.7L290.2 13.5L288 15.3Z" fill="#505050"/><path d="M277.2 10.8 Q280.5 5 283 5.2 T288.8 9.2" stroke="#2f962f" stroke-width="1.1" fill="none"/></g>
<!-- zoom in -->
<g>
<path d="M318.4 10.6 L322.8 14.4" stroke="#9a7a1a" stroke-width="3" stroke-linecap="round"/>
<path d="M318.4 10.6 L322.8 14.4" stroke="#ecd050" stroke-width="1.8" stroke-linecap="round"/>
<circle cx="314" cy="6" r="5.2" fill="url(#gl)" stroke="#4a8fdc" stroke-width="1.2"/>
<path d="M311 6h6M314 3v6" stroke="#3a7eb8" stroke-width="1.6"/>
</g>
<!-- zoom out -->
<g>
<path d="M346.4 10.6 L350.8 14.4" stroke="#9a7a1a" stroke-width="3" stroke-linecap="round"/>
<path d="M346.4 10.6 L350.8 14.4" stroke="#ecd050" stroke-width="1.8" stroke-linecap="round"/>
<circle cx="342" cy="6" r="5.2" fill="url(#gl)" stroke="#4a8fdc" stroke-width="1.2"/>
<path d="M339 6h6" stroke="#3a7eb8" stroke-width="1.6"/>
</g>
<!-- tiles -->
<g shape-rendering="crispEdges"><rect x="364" y="0" width="8" height="8" fill="url(#tg)"/><rect x="365" y="3" width="6" height="4" fill="#fbfdff"/><rect x="366" y="4" width="4" height="1" fill="#a8d89a"/><rect x="365" y="1" width="1" height="1" fill="#9fdc8f"/><rect x="372" y="0" width="8" height="8" fill="url(#tbl)"/><rect x="373" y="3" width="6" height="4" fill="#fbfdff"/><rect x="374" y="4" width="4" height="1" fill="#9ab4ec"/><rect x="373" y="1" width="1" height="1" fill="#9fbcf5"/><rect x="364" y="8" width="8" height="8" fill="url(#tbl)"/><rect x="365" y="11" width="6" height="4" fill="#fbfdff"/><rect x="366" y="12" width="4" height="1" fill="#9ab4ec"/><rect x="365" y="9" width="1" height="1" fill="#9fbcf5"/><rect x="372" y="8" width="8" height="8" fill="url(#tg)"/><rect x="373" y="11" width="6" height="4" fill="#fbfdff"/><rect x="374" y="12" width="4" height="1" fill="#a8d89a"/><rect x="373" y="9" width="1" height="1" fill="#9fdc8f"/></g>
<!-- auto scroll -->
<g><path d="M402.5 3V15.6M400 13.5H413" stroke="#505050" stroke-width="1.2" fill="none"/><path d="M400.7 4.2L402.5 1.6L404.3 4.2ZM412 11.7L414.2 13.5L412 15.3Z" fill="#505050"/><path d="M407.2 4.6 L410.8 7.6 L407.2 10.6 Z" fill="#8fe08f" stroke="#1d9a1d" stroke-width="1"/></g>
<!-- chart shift -->
<g><path d="M430.5 3V15.6M428 13.5H441" stroke="#505050" stroke-width="1.2" fill="none"/><path d="M428.7 4.2L430.5 1.6L432.3 4.2ZM440 11.7L442.2 13.5L440 15.3Z" fill="#505050"/><path d="M436.5 2.5V12" stroke="#2a62b8" stroke-width="1.2"/><path d="M441.8 7.5H438.2M440 5.6 L437.8 7.5 L440 9.4" stroke="#d03a1a" stroke-width="1.1" fill="none"/></g>
<!-- new chart -->
<g>
<path d="M461.5 0.5h6.5l3 3v9.5h-9.5z" fill="#fdfdfd" stroke="#9a9a9a" stroke-width="0.9"/>
<path d="M468 0.5v3h3" fill="none" stroke="#9a9a9a" stroke-width="0.8"/>
<path d="M465 3v7M465 4.5h1.8M463.4 8.6h1.6" stroke="#484848" stroke-width="0.9" fill="none"/>
<path d="M469.4 6.4h3.6v3.9h3.9v3.6h-3.9v3.9h-3.6v-3.9h-3.9v-3.6h3.9z" fill="#22cc22" stroke="#0e9a0e" stroke-width="0.8"/>
<path d="M470.4 7.4h1.4v3.9h-1.4zM466.6 11.2h3.8v1.3h-3.8z" fill="#8af58a"/>
</g>
<!-- clock -->
<g>
<circle cx="507.1" cy="7.7" r="7.8" fill="url(#gck)" stroke="#134aa8" stroke-width="0.6"/>
<rect x="505.8" y="-0.6" width="2.6" height="1.4" fill="#1c5cc8"/>
<circle cx="507.1" cy="7.7" r="5.5" fill="#f7f9fd"/>
<path d="M507.1 3.2v0.9M507.1 11.3v0.9M502.6 7.7h0.9M510.7 7.7h0.9" stroke="#8aa0c0" stroke-width="0.8"/>
<path d="M507.1 4.2V7.9H510" stroke="#202020" stroke-width="1.1" fill="none"/>
</g>
<!-- template -->
<g>
<rect x="538.5" y="1.5" width="15" height="13" fill="#fbfcff" stroke="#3d6fbe" stroke-width="1"/>
<rect x="538" y="1" width="16" height="2.8" fill="url(#gtp)"/>
<path d="M539.5 8.6H553" stroke="#8fa8d0" stroke-width="0.8"/>
<path d="M540.4 7l2.2-0.2 1.6-1.2 1.8 0.4 1.8-1 1.8 0.8 2.2-1 0.8 0.1" stroke="#8a2208" stroke-width="1.3" fill="none"/>
<path d="M540.6 12.6l2-0.2 1.6-1 1.8 0.8 1.8-2 1.8 0 1.6 2.2 0.6 0.4" stroke="#1f8f1f" stroke-width="1.3" fill="none"/>
</g>
<!-- dropdown arrows -->
<g fill="#000"><path d="M482.8 7h5.6l-2.8 3z"/><path d="M521.8 7h5.6l-2.8 3z"/><path d="M560.8 7h5.6l-2.8 3z"/><path d="M866.8 7h5.6l-2.8 3z"/></g>
<!-- cursor -->
<path d="M590.3 1.2 L590.3 13.2 L593 10.6 L595 15 L596.8 14.2 L594.8 9.9 L598.4 9.6 Z" fill="#404040"/>
<!-- crosshair -->
<g stroke="#404040" stroke-width="1" shape-rendering="crispEdges"><path d="M622.5 1V7M622.5 10V16M615 8.5H621M624 8.5H630M622 8.5H623"/></g>
<!-- vline hline diag -->
<g stroke="#505050" stroke-width="1.1"><path d="M656.5 2V15" shape-rendering="crispEdges"/><path d="M679 8.5H691" shape-rendering="crispEdges"/><path d="M706.7 15 L719 2.5"/></g>
<!-- channel E -->
<g stroke="#505050" stroke-width="1" fill="none">
<path d="M732.7 9.5 L744.5 0M734.5 14 L746.8 5.9"/><path d="M735.6 12.6l1.7-7.4M738.8 10.6l1.7-7.6M742 8.4l1.7-7.6" stroke-width="1"/>
</g>
<!-- fib F -->
<g stroke="#606060" stroke-width="1" stroke-dasharray="1 1" shape-rendering="crispEdges"><path d="M762 1.5H775M762 4.5H775M762 8.5H775M762 12.5H771"/></g>
<!-- T box -->
<g><rect x="819.5" y="2.5" width="11" height="12" fill="none" stroke="#505050" stroke-width="1" stroke-dasharray="1 1" shape-rendering="crispEdges"/></g>
<!-- arrows icon -->
<g fill="#404040">
<path d="M849.9 1.6 l3.5 3.3 l-2 2 h-3 l-2-2z"/>
<path d="M856.7 15.2 l-3.5-3.3 l2-2 h3 l2 2z"/>
<path d="M848.6 9.4 l2 2 5-5.6" fill="none" stroke="#404040" stroke-width="1.3"/>
</g>
<!-- search -->
<g>
<path d="M1606.8 8.4 L1601.6 13.2" stroke="#2a5fd0" stroke-width="2.2" stroke-linecap="round"/>
<circle cx="1609.7" cy="5.4" r="3.7" fill="#f3f6fd" stroke="#2a5fd0" stroke-width="1.3"/>
</g>
<!-- chat + badge -->
<g>
<path d="M1626.2 10.5 a5.6 5 0 0 1 11.2 0 a5.6 5 0 0 1 -6.6 4.9 l-2.2 1.6 l0.2 -2.6 a5.2 5 0 0 1 -2.6 -3.9z" fill="#dfe1ee" stroke="#9c9ca6" stroke-width="0.9"/>
<circle cx="1640.4" cy="5.5" r="8.3" fill="url(#gr)"/>
</g>
</svg>
<div class="zh" style="left:-2.5px;top:1px">新订单</div>
<div class="zh" style="left:148.5px;top:1px">自动交易</div>
<div class="tf" style="left:743.8px;top:11.3px;font-size:7px;line-height:7px;font-weight:bold;color:#404040">E</div>
<div class="tf" style="left:772px;top:11.3px;font-size:7px;line-height:7px;font-weight:bold;color:#404040">F</div>
<div class="tf" style="left:792.6px;top:2px;font-size:12px;line-height:14px;font-weight:bold;color:#626262">A</div>
<div class="tf" style="left:821.2px;top:3.8px;font-size:11px;line-height:13px;font-weight:bold;color:#505050">T</div>
<div class="tf" style="left:893px">M1</div>
<div class="tf" style="left:922px">M5</div>
<div class="tf" style="left:947px">M15</div>
<div class="tf" style="left:975px">M30</div>
<div class="tf" style="left:1007px">H1</div>
<div class="tf" style="left:1034px">H4</div>
<div class="tf" style="left:1062px">D1</div>
<div class="tf" style="left:1090px">W1</div>
<div class="tf" style="left:1117px">MN</div>
<div class="tf" style="left:1637px;top:-2px;font-size:13px;line-height:15px;color:#fff">1</div>
</div>
<div style="position:absolute;left:0;top:19px;width:1655px;height:1px;background:#f8f8f8"></div>
<div style="position:absolute;left:0;top:20px;width:1654px;height:1px;background:#a0a0a0"></div>
<div style="position:absolute;left:1px;top:21px;width:1652px;height:1px;background:#696969"></div>

</body></html>
